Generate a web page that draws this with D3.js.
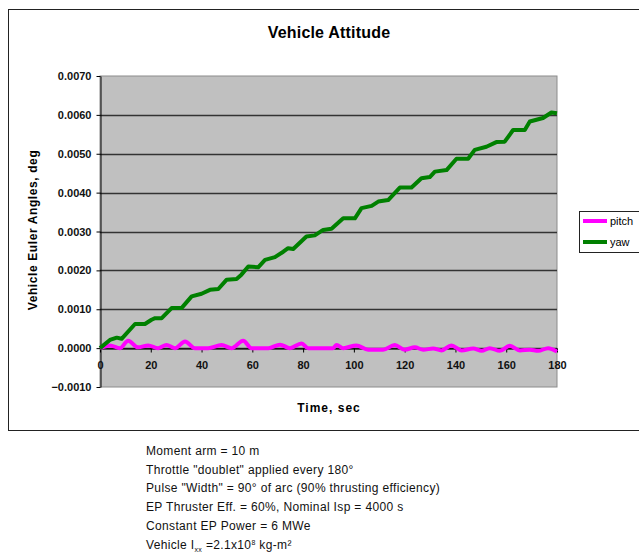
<!DOCTYPE html>
<html>
<head>
<meta charset="utf-8">
<script src="https://cdn.jsdelivr.net/npm/d3@7"></script>
<style>
  body { margin: 0; background: #fff; }
  svg { font-family: "Liberation Sans", Arial, sans-serif; }
</style>
</head>
<body>
<svg id="chart"></svg>
<script>
// yaw (green) - time, sec / angle, deg
const yawTime = [0, 3.9, 6.6, 8.5, 13.8, 17.7, 20.3, 21.7, 24.3, 28.2, 32.1, 36.1, 40, 43.3, 46.6, 49.9, 53.8, 55.7, 58.4, 62.3, 65, 68.9, 72.2, 74.1, 76.1, 81.3, 84.6, 87.9, 91.2, 95.8, 100.4, 103, 107, 109.6, 113.5, 118.1, 122.7, 126.6, 129.9, 131.9, 136.5, 140.4, 145, 147.6, 152.2, 156.1, 159.4, 162.7, 167.3, 169.3, 174.5, 177.8, 180];
const yawValue = [0, 0.00021, 0.00027, 0.00024, 0.00062, 0.00062, 0.00073, 0.00077, 0.00077, 0.00103, 0.00103, 0.00133, 0.0014, 0.0015, 0.00152, 0.00176, 0.00178, 0.00189, 0.00210, 0.00208, 0.00227, 0.00234, 0.00248, 0.00257, 0.00255, 0.00287, 0.0029, 0.00304, 0.00307, 0.00334, 0.00334, 0.0036, 0.00366, 0.00377, 0.00381, 0.00413, 0.00413, 0.00437, 0.0044, 0.00454, 0.00458, 0.00487, 0.00487, 0.0051, 0.00518, 0.0053, 0.00531, 0.00561, 0.00561, 0.00583, 0.00592, 0.00606, 0.00604];

// pitch (magenta)
const pitchTime = [0, 3.9, 7.9, 11.1, 15, 19, 22.9, 26.2, 29.5, 33.5, 37.4, 42.6, 47.9, 51.8, 56.4, 59.7, 66.3, 70.9, 74.8, 79.4, 82, 91.8, 93.2, 95.8, 101, 105.6, 111.5, 116.1, 120, 124, 127.3, 131.2, 134.5, 138.4, 142.4, 147, 150.3, 153.5, 157.5, 161.4, 165.4, 169.3, 172.6, 176.5, 180];
const pitchValue = [0, 0.00007, 0, 0.00019, 0.00002, 0.00007, 0, 0.00008, 0, 0.00017, 0, 0, 0.00008, 0, 0.00019, 0, 0, 0.00009, 0, 0.00012, 0, 0, 0.00008, 0, 0.00007, -0.00004, -0.00004, 0.00008, -0.00004, 0.00002, -0.00004, -0.00001, -0.00006, 0.00007, -0.00006, -0.00001, -0.00007, 0, -0.00007, 0.00006, -0.00006, -0.00004, -0.00007, 0, -0.00009];

const xTicks = [0, 20, 40, 60, 80, 100, 120, 140, 160, 180];
const yTicks = [-0.001, 0, 0.001, 0.002, 0.003, 0.004, 0.005, 0.006, 0.007];

const notes = [
  "Moment arm = 10 m",
  "Throttle \"doublet\" applied every 180°",
  "Pulse \"Width\" = 90° of arc (90% thrusting efficiency)",
  "EP Thruster Eff. = 60%, Nominal Isp = 4000 s",
  "Constant EP Power = 6 MWe"
];

const W = 639, H = 552;
const svg = d3.select("#chart").attr("width", W).attr("height", H);

// outer chart frame
svg.append("rect")
  .attr("x", 8.5).attr("y", 9.5)
  .attr("width", 650).attr("height", 421)
  .attr("fill", "#fff").attr("stroke", "#222").attr("stroke-width", 1);

const plot = { left: 100, right: 557, top: 76, bottom: 387 };

const x = d3.scaleLinear().domain([0, 180]).range([plot.left, plot.right]);
const y = d3.scaleLinear().domain([-0.001, 0.007]).range([plot.bottom, plot.top]);

// plot area
svg.append("rect")
  .attr("x", plot.left).attr("y", plot.top)
  .attr("width", plot.right - plot.left).attr("height", plot.bottom - plot.top)
  .attr("fill", "#c0c0c0").attr("stroke", "#8c8c8c").attr("stroke-width", 1);

// gridlines
svg.append("g")
  .selectAll("line")
  .data(yTicks.filter((d) => d > -0.001 && d < 0.007))
  .enter()
  .append("line")
  .attr("x1", plot.left).attr("x2", plot.right)
  .attr("y1", (d) => Math.round(y(d)) + 0.5).attr("y2", (d) => Math.round(y(d)) + 0.5)
  .attr("stroke", "#333").attr("stroke-width", 1.4);

// y axis
const yAxis = svg.append("g")
  .attr("transform", `translate(${plot.left + 0.5},0)`)
  .call(d3.axisLeft(y).tickValues(yTicks).tickFormat(d3.format(".4f")).tickSize(4).tickSizeOuter(0));
yAxis.select(".domain").attr("stroke", "#000");
yAxis.selectAll("text")
  .attr("x", -9)
  .style("font-size", "11px").style("font-weight", "bold")
  .style("font-family", "Liberation Sans, Arial, sans-serif")
  .attr("fill", "#111");

// x axis at zero
const xAxis = svg.append("g")
  .attr("transform", `translate(0,${Math.round(y(0)) + 0.5})`)
  .call(d3.axisBottom(x).tickValues(xTicks).tickSize(4).tickSizeOuter(0));
xAxis.select(".domain").attr("stroke", "#000");
xAxis.selectAll("text")
  .attr("y", 13)
  .style("font-size", "11px").style("font-weight", "bold")
  .style("font-family", "Liberation Sans, Arial, sans-serif")
  .attr("fill", "#111");

const line = d3.line().x((d) => x(d[0])).y((d) => y(d[1]));
const smooth = d3.line().x((d) => x(d[0])).y((d) => y(d[1])).curve(d3.curveMonotoneX);

svg.append("path")
  .datum(pitchTime.map((t, i) => [t, pitchValue[i]]))
  .attr("d", smooth)
  .attr("fill", "none").attr("stroke", "#ff00ff")
  .attr("stroke-width", 4).attr("stroke-linejoin", "round");

svg.append("path")
  .datum(yawTime.map((t, i) => [t, yawValue[i]]))
  .attr("d", line)
  .attr("fill", "none").attr("stroke", "#008000")
  .attr("stroke-width", 4).attr("stroke-linejoin", "round");

// titles
svg.append("text")
  .attr("x", 329).attr("y", 38)
  .attr("text-anchor", "middle")
  .style("font-size", "16px").style("font-weight", "bold")
  .style("letter-spacing", "0.2px")
  .text("Vehicle Attitude");

svg.append("text")
  .attr("x", 329).attr("y", 412)
  .attr("text-anchor", "middle")
  .style("font-size", "12px").style("font-weight", "bold")
  .style("letter-spacing", "1px")
  .text("Time, sec");

svg.append("text")
  .attr("transform", "translate(37,230) rotate(-90)")
  .attr("text-anchor", "middle")
  .style("font-size", "12px").style("font-weight", "bold")
  .style("letter-spacing", "0.6px")
  .text("Vehicle Euler Angles, deg");

// legend
const legend = svg.append("g").attr("transform", "translate(579,211)");
legend.append("rect")
  .attr("x", 0.5).attr("y", 0.5).attr("width", 80).attr("height", 41)
  .attr("fill", "#fff").attr("stroke", "#222");
[["pitch", "#ff00ff", 10], ["yaw", "#008000", 31]].forEach(([name, color, ly]) => {
  legend.append("line")
    .attr("x1", 4).attr("x2", 28).attr("y1", ly).attr("y2", ly)
    .attr("stroke", color).attr("stroke-width", 4);
  legend.append("text")
    .attr("x", 31).attr("y", ly + 4)
    .style("font-size", "11px")
    .text(name);
});

// notes below chart
const noteG = svg.append("g").style("font-size", "12px").style("letter-spacing", "0.35px").attr("fill", "#111");
notes.forEach((t, i) => {
  noteG.append("text").attr("x", 146).attr("y", 455 + i * 18.7).text(t);
});
const last = noteG.append("text").attr("x", 146).attr("y", 455 + 5 * 18.7);
last.append("tspan").text("Vehicle I");
last.append("tspan").attr("dy", 3).style("font-size", "7px").text("xx");
last.append("tspan").attr("dy", -3).text(" =2.1x10");
last.append("tspan").attr("dy", -4).style("font-size", "7px").text("8");
last.append("tspan").attr("dy", 4).text(" kg-m²");
</script>
</body>
</html>
